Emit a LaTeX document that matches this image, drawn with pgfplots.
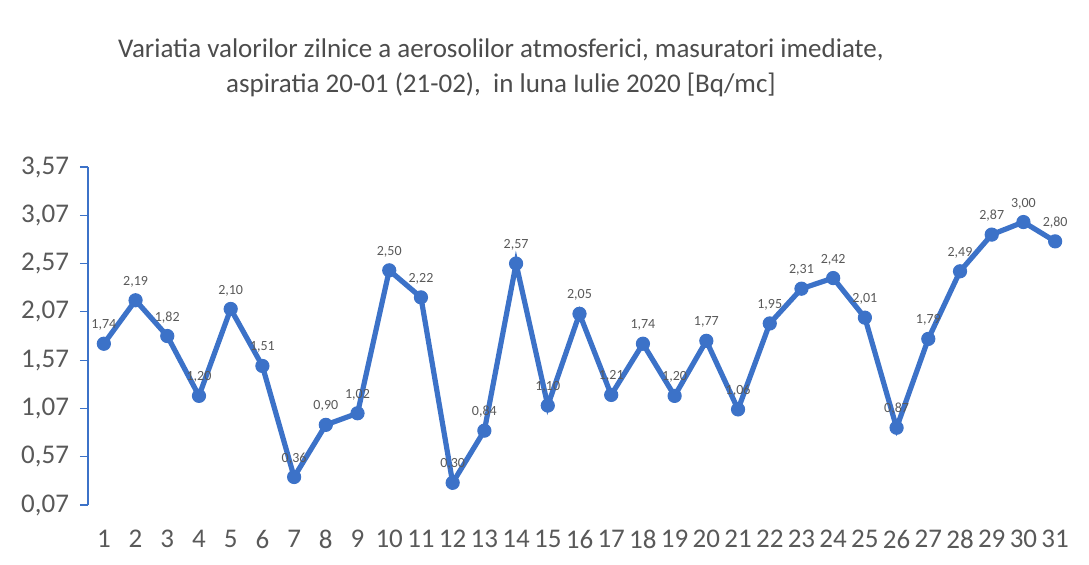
\documentclass[border=0pt]{standalone}
\usepackage{fontspec}
\setmainfont{Carlito}
\usepackage{pgfplots}
\pgfplotsset{compat=1.18}
\definecolor{lineblue}{HTML}{3C72C8}
\definecolor{txtgray}{HTML}{595959}

\pgfplotstableread{
day val
1 1.74
2 2.19
3 1.82
4 1.20
5 2.10
6 1.51
7 0.36
8 0.90
9 1.02
10 2.50
11 2.22
12 0.30
13 0.84
14 2.57
15 1.10
16 2.05
17 1.21
18 1.74
19 1.20
20 1.77
21 1.06
22 1.95
23 2.31
24 2.42
25 2.01
26 0.87
27 1.79
28 2.49
29 2.87
30 3.00
31 2.80
}\aerosoli

\begin{document}
\begin{tikzpicture}
\path[use as bounding box] (0,0) rectangle (544.5pt,282pt);
\node[align=center, text=txtgray!85!black, font=\fontsize{13.5}{17.5}\selectfont] at (250.5pt,248pt)
  {Variatia valorilor zilnice a aerosolilor atmosferici, masuratori imediate,\\
   aspiratia 20-01 (21-02),\ \ in luna Iulie 2020 [Bq/mc]};
\begin{axis}[
    at={(44pt,29.5pt)}, anchor=south west,
    scale only axis,
    width=491.5pt, height=169pt,
    xmin=0.5, xmax=31.5,
    ymin=0.07, ymax=3.57,
    xtick={1,...,31},
    ytick={0.07,0.57,1.07,1.57,2.07,2.57,3.07,3.57},
    axis x line=none,
    axis y line*=left,
    y axis line style={lineblue, line width=0.8pt, -},
    ytick style={lineblue, line width=0.6pt},
    major tick length=4pt,
    tick align=outside,
    /pgf/number format/assume math mode=true,
    yticklabel style={text=txtgray, font=\fontsize{13.5}{15}\selectfont, xshift=-2pt,
      /pgf/number format/.cd, fixed, fixed zerofill, precision=2, use comma},
    clip=false,
    nodes near coords,
    every node near coord/.append style={text=txtgray, yshift=3pt, font=\fontsize{7}{8}\selectfont,
      /pgf/number format/.cd, fixed, fixed zerofill, precision=2, use comma, assume math mode=true},
]
\addplot[lineblue, line width=2.6pt, mark=*, mark size=3.3pt,
  mark options={fill=lineblue, draw=lineblue, line width=0.5pt}]
  table[x=day, y=val] {\aerosoli};
\end{axis}
% day numbers under the plot
\begin{axis}[
    at={(44pt,29.5pt)}, anchor=south west,
    scale only axis,
    width=491.5pt, height=169pt,
    xmin=0.5, xmax=31.5, ymin=0.07, ymax=3.57,
    axis y line=none, axis x line*=bottom,
    x axis line style={draw=none},
    xtick={1,...,31}, major tick length=0pt,
    ytick=\empty,
    /pgf/number format/assume math mode=true,
    xticklabel style={text=txtgray, font=\fontsize{13.5}{15}\selectfont, yshift=-9pt},
]
\end{axis}
\end{tikzpicture}
\end{document}
